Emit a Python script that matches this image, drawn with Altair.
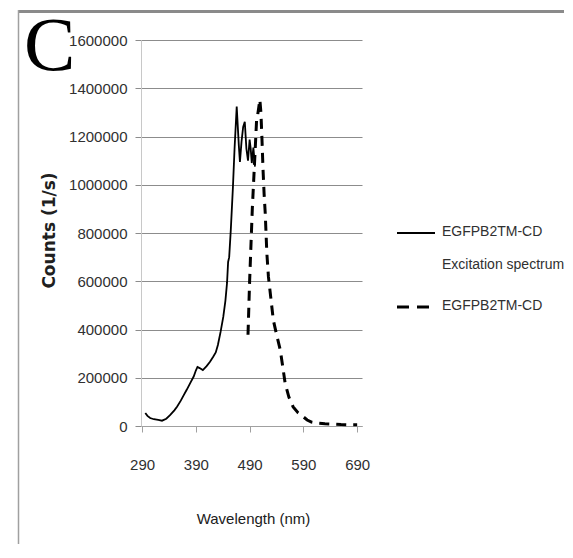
import altair as alt
import pandas as pd

# Excitation spectrum (solid)
exc_nm = [296, 300, 305, 312, 320, 327, 335, 342, 350, 355, 362, 368, 373, 380, 386, 390, 393,
          397, 403, 410, 416, 422, 427, 431, 436, 441, 445, 448, 450, 452, 455, 459, 462, 466,
          470, 472, 475, 478, 481, 484, 487, 490, 492, 494, 497, 500]
exc_counts = [54000, 42000, 33000, 28000, 25000, 22000, 30000, 45000, 65000, 80000, 105000,
              130000, 150000, 180000, 205000, 230000, 245000, 240000, 232000, 248000, 265000,
              286000, 305000, 336000, 390000, 452000, 520000, 593000, 680000, 700000, 813000,
              992000, 1150000, 1324000, 1160000, 1095000, 1180000, 1240000, 1261000, 1150000,
              1100000, 1187000, 1150000, 1090000, 1154000, 1075000]

# Emission spectrum (dashed)
em_nm = [487, 490, 495, 500, 503, 505, 507, 509, 511, 513, 515, 517, 519, 522, 525, 530, 534,
         540, 547, 552, 556, 563, 571, 580, 590, 597, 605, 615, 630, 645, 660, 675, 690]
em_counts = [378000, 600000, 900000, 1130000, 1270000, 1290000, 1320000, 1353000, 1300000,
             1187000, 1060000, 960000, 884000, 718000, 618000, 520000, 440000, 380000, 315000,
             240000, 178000, 120000, 79000, 55000, 38000, 25000, 16000, 12000, 9000, 8000,
             6000, 5000, 5000]

x_ticks = [290, 390, 490, 590, 690]
y_ticks = [0, 200000, 400000, 600000, 800000, 1000000, 1200000, 1400000, 1600000]
legend_labels = ["EGFPB2TM-CD", "Excitation spectrum", "EGFPB2TM-CD"]

SANS = "Liberation Sans"

exc_df = pd.DataFrame({"nm": exc_nm, "counts": exc_counts})
em_df = pd.DataFrame({"nm": em_nm, "counts": em_counts})

x_enc = alt.X("nm:Q", scale=alt.Scale(domain=[288, 699], nice=False, zero=False),
              axis=alt.Axis(values=x_ticks, grid=False, title="Wavelength (nm)",
                            domainColor="#a0a0a0", tickColor="#a0a0a0", tickSize=6,
                            labelFont=SANS, labelFontSize=15, labelColor="#303030",
                            labelPadding=25, labelFlush=False,
                            titleFont=SANS, titleFontSize=15, titleFontWeight="normal",
                            titleColor="#202020", titleX=112, titleY=92,
                            titleAlign="center", titleBaseline="middle"))
y_enc = alt.Y("counts:Q", scale=alt.Scale(domain=[0, 1600000], nice=False),
              axis=alt.Axis(values=y_ticks, format="d", grid=True, gridColor="#8c8c8c",
                            gridWidth=1, domainColor="#c8c8c8", tickColor="#8c8c8c",
                            tickSize=6, labelFont=SANS, labelFontSize=15,
                            labelColor="#303030", labelPadding=8,
                            title="Counts (1/s)", titleFont="DejaVu Sans",
                            titleFontSize=17, titleFontWeight="bold", titleColor="#202020",
                            titleAngle=-90, titleX=-92, titleY=190,
                            titleAlign="center", titleBaseline="middle"))

exc_line = alt.Chart(exc_df).mark_line(color="black", strokeWidth=1.8).encode(x=x_enc, y=y_enc)
em_line = alt.Chart(em_df).mark_line(color="black", strokeWidth=3, strokeDash=[10, 7]).encode(
    x=x_enc, y=y_enc)

one = pd.DataFrame({"a": [0]})
top_frame = alt.Chart(one).mark_rule(color="#8a8a8a", strokeWidth=3).encode(
    x=alt.value(-123), x2=alt.value(440), y=alt.value(-28.5))
left_frame = alt.Chart(one).mark_rule(color="#a0a0a0", strokeWidth=1.5).encode(
    x=alt.value(-122.5), y=alt.value(-30), y2=alt.value(520))
big_c = alt.Chart(one).mark_text(text="C", font="Liberation Serif", fontSize=77,
                                  align="left", baseline="alphabetic", color="black").encode(
    x=alt.value(-117), y=alt.value(30))

leg_solid = alt.Chart(one).mark_rule(color="black", strokeWidth=2.2).encode(
    x=alt.value(256), x2=alt.value(294), y=alt.value(193))
leg_dash = alt.Chart(one).mark_rule(color="black", strokeWidth=3, strokeDash=[12, 8]).encode(
    x=alt.value(256), x2=alt.value(288), y=alt.value(267))
leg_t1 = alt.Chart(one).mark_text(text=legend_labels[0], font=SANS, fontSize=14,
                                   align="left", baseline="middle", color="#303030").encode(
    x=alt.value(301), y=alt.value(192))
leg_t2 = alt.Chart(one).mark_text(text=legend_labels[1], font=SANS, fontSize=14,
                                   align="left", baseline="middle", color="#303030").encode(
    x=alt.value(301), y=alt.value(225))
leg_t3 = alt.Chart(one).mark_text(text=legend_labels[2], font=SANS, fontSize=14,
                                   align="left", baseline="middle", color="#303030").encode(
    x=alt.value(301), y=alt.value(266))

chart = alt.layer(exc_line, em_line, top_frame, left_frame, big_c,
                  leg_solid, leg_dash, leg_t1, leg_t2, leg_t3).properties(
    width=221, height=386,
    padding={"left": 133, "top": 32, "right": 202, "bottom": 118},
    autosize=alt.AutoSizeParams(type="none"),
    background="white",
).configure_view(stroke=None)

chart.save("out.html", embed_options={"renderer": "svg", "actions": False})
